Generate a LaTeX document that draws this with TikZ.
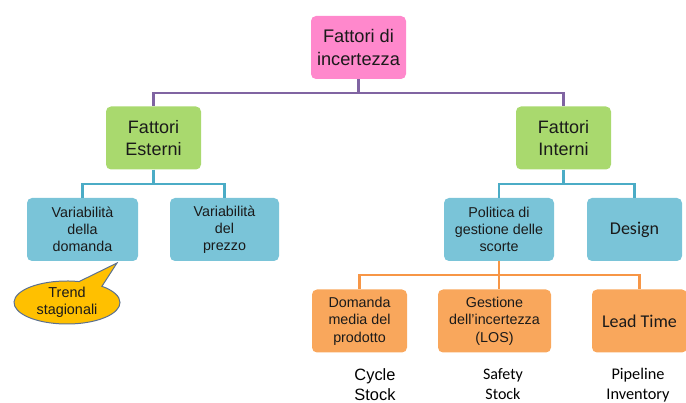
\documentclass[tikz,border=0pt]{standalone}
\usepackage{fontspec}
\setmainfont{Liberation Sans}
\newfontfamily\calfont{Carlito}
\usetikzlibrary{shapes.callouts}
\definecolor{pinkbox}{HTML}{FF88CC}
\definecolor{greenbox}{HTML}{A9D96E}
\definecolor{tealbox}{HTML}{7AC4D8}
\definecolor{orangebox}{HTML}{F9A75C}
\definecolor{purpleline}{HTML}{8064A2}
\definecolor{tealline}{HTML}{4BACC6}
\definecolor{orangeline}{HTML}{F79646}
\definecolor{calloutfill}{HTML}{FFC000}
\definecolor{calloutedge}{HTML}{5B7090}
\definecolor{textdark}{HTML}{1A1A1A}
\tikzset{
  box/.style={rounded corners=5pt, draw=none, align=center, inner sep=1pt,
    text=textdark, minimum height=63pt},
  toplevel/.style={box, fill=pinkbox, minimum width=95pt, font=\fontsize{18.2}{23}\selectfont},
  midlevel/.style={box, fill=greenbox, minimum width=95pt, font=\fontsize{18}{21.5}\selectfont},
  subbox/.style={box, fill=tealbox, font=\fontsize{14.3}{17}\selectfont},
  leafbox/.style={box, fill=orangebox, font=\fontsize{14.3}{17.5}\selectfont},
  purplelink/.style={draw=purpleline, line width=2.6pt},
  teallink/.style={draw=tealline, line width=2.6pt},
  orangelink/.style={draw=orangeline, line width=2.6pt},
  stocklabel/.style={align=center, font=\calfont\fontsize{16}{20}\selectfont, text=black}
}
\begin{document}
\begin{tikzpicture}[x=1pt, y=-1pt]
\useasboundingbox (0,0) rectangle (686,403);
% root
\node[toplevel] (root) at (358.5,47.5) {Fattori di\\incertezza};
% second level
\node[midlevel] (est) at (153.5,138) {Fattori\\Esterni};
\node[midlevel] (int) at (563.5,138) {Fattori\\Interni};
% third level
\node[subbox, minimum width=111pt] (vdom) at (82.5,229.5) {Variabilità\\della\\domanda};
\node[subbox, minimum width=109pt] (vprez) at (224.5,229.5) {Variabilità\\del\\prezzo};
\node[subbox, minimum width=110pt] (pol) at (499,229.5) {Politica di\\gestione delle\\scorte};
\node[subbox, minimum width=95pt, font=\calfont\fontsize{18}{22}\selectfont] (des) at (634.5,229.5) {Design};
% fourth level
\node[leafbox, minimum width=95pt] (dom) at (359.5,321) {Domanda\\media del\\prodotto};
\node[leafbox, minimum width=113pt] (ges) at (494.5,321) {Gestione\\dell'incertezza\\(LOS)};
\node[leafbox, minimum width=95pt, font=\calfont\fontsize{18}{22}\selectfont] (lead) at (639.5,321) {Lead Time};
% stock labels
\node[stocklabel, font=\fontsize{16.4}{20}\selectfont] (cyc) at (375,384.5) {Cycle\\Stock};
\node[stocklabel] (saf) at (503,384) {Safety\\Stock};
\node[stocklabel, font=\calfont\fontsize{16.3}{20}\selectfont] (pip) at (638,385) {Pipeline\\Inventory};
% callout
\coordinate (tip) at (117,263);
\node[ellipse callout, callout absolute pointer=(tip), callout pointer arc=28,
  fill=calloutfill, draw=calloutedge,
  line width=1pt, minimum width=106pt, minimum height=42pt, inner sep=0pt, align=center,
  font=\fontsize{14.4}{17}\selectfont, text=textdark] (trend) at (67,302.5) {Trend\\stagionali};
% connectors
\draw[purplelink] (root.south) -- (root.south |- 0,93) -| (est.north);
\draw[purplelink] (root.south |- 0,93) -| (int.north);
\draw[teallink] (est.south) -- (est.south |- 0,184) -| (vdom.north);
\draw[teallink] (est.south |- 0,184) -| (vprez.north);
\draw[teallink] (int.south) -- (int.south |- 0,184) -| (pol.north);
\draw[teallink] (int.south |- 0,184) -| (des.north);
\draw[orangelink] (pol.south) -- (pol.south |- 0,275) -| (dom.north);
\draw[orangelink] (pol.south |- 0,275) -| (lead.north);
\draw[orangelink] (pol.south |- 0,275) -- (pol.south |- ges.north);
\end{tikzpicture}
\end{document}
